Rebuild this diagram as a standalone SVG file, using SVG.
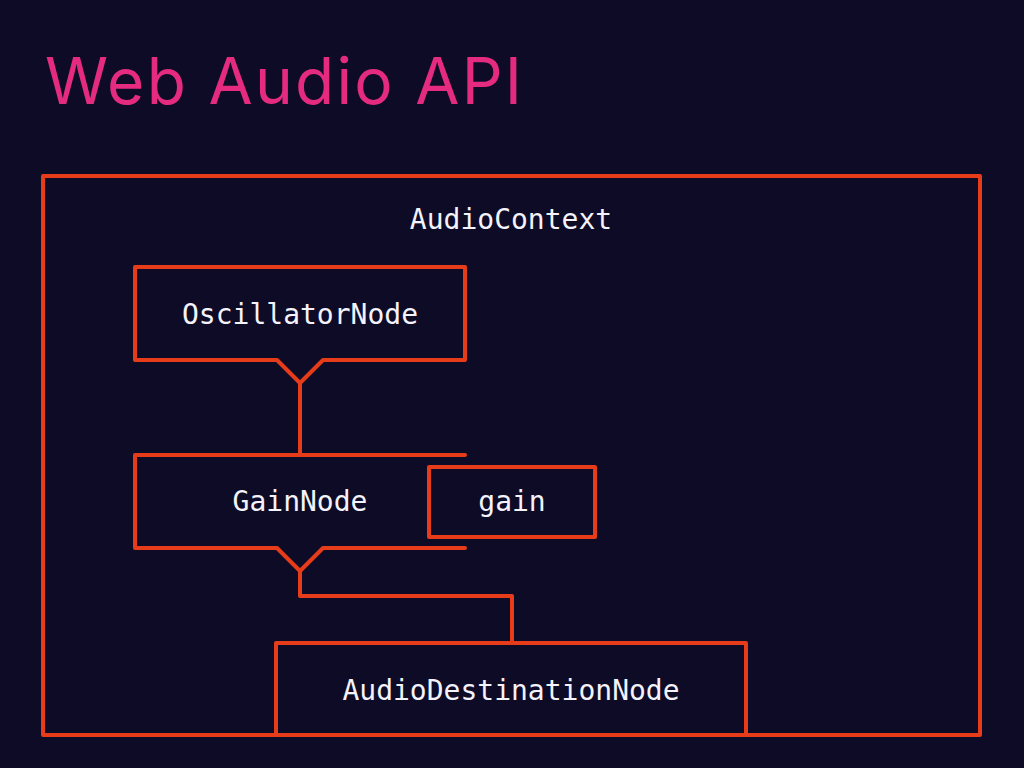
<svg xmlns="http://www.w3.org/2000/svg" width="1024" height="768" viewBox="0 0 1024 768">
<style>
.ln{fill:none;stroke:#e63c19;stroke-width:4;stroke-linejoin:round;stroke-linecap:round}
.lb{font-family:"DejaVu Sans Mono","Liberation Mono",monospace;font-size:28px;fill:#f4f2fa;text-anchor:middle}
.title{font-family:Inter,"Open Sans","Noto Sans",sans-serif;font-size:64px;fill:#e52b80}
</style>
<rect width="1024" height="768" fill="#0e0b27"/>
<text class="title" x="45" y="104" textLength="477">Web Audio API</text>
<g id="audiocontext">
<rect class="ln" x="43" y="176" width="937" height="559"/>
<text class="lb" x="511" y="229">AudioContext</text>
</g>
<g id="oscillator">
<path class="ln" d="M135,267 H465 V360 H323 L300,383 L277,360 H135 Z"/>
<text class="lb" x="300" y="324">OscillatorNode</text>
</g>
<g id="gainnode">
<path class="ln" d="M465,455 H135 V548 H277 L300,571 L323,548 H465"/>
<text class="lb" x="300" y="511">GainNode</text>
</g>
<g id="gain">
<rect class="ln" x="429" y="467" width="166" height="70"/>
<text class="lb" x="512" y="511">gain</text>
</g>
<g id="destination">
<rect class="ln" x="276" y="643" width="470" height="92"/>
<text class="lb" x="511" y="700">AudioDestinationNode</text>
</g>
<g id="connectors">
<path class="ln" d="M300,383 V455"/>
<path class="ln" d="M300,571 V596 H512 V643"/>
</g>
</svg>
